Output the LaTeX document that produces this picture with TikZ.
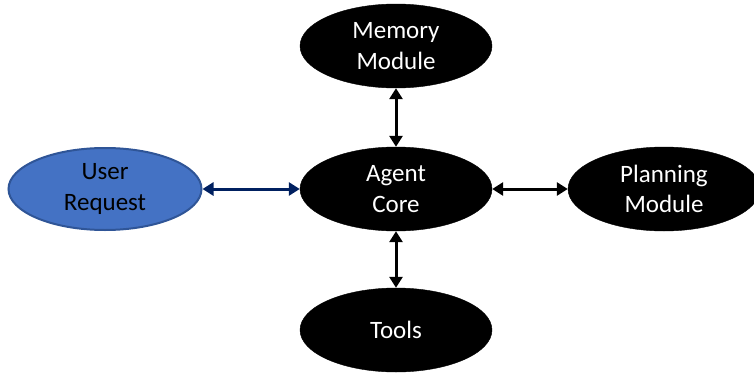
\documentclass[tikz,border=0pt]{standalone}
\usepackage{fontspec}
\setmainfont{Carlito}
\usetikzlibrary{shapes.geometric,arrows.meta}
\definecolor{userfill}{HTML}{4472C4}
\definecolor{userline}{HTML}{2F5597}
\definecolor{navy}{HTML}{002060}
\begin{document}
\begin{tikzpicture}[x=1pt,y=-1pt,
  blob/.style={ellipse, fill=black, draw=black, minimum width=192pt, minimum height=84pt,
    inner sep=0pt, text=white, align=center, font=\fontsize{25}{30.5}\selectfont},
  userblob/.style={blob, fill=userfill, draw=userline, line width=2pt, text=black},
  biarrow/.style={line width=3pt, {Triangle[width=13pt,length=11pt]}-{Triangle[width=13pt,length=11pt]}},
]
\useasboundingbox (0,0) rectangle (754,372);
\node[blob] (mem) at (396,46) {Memory\\Module};
\node[blob] (core) at (396,189) {Agent\\Core};
\node[blob] (tools) at (396,330) {Tools};
\node[blob] (plan) at (664,189) {Planning\\Module};
\node[userblob, minimum width=193pt, minimum height=82pt] (user) at (105,189) {User\\Request};
\draw[biarrow] (mem) -- (core);
\draw[biarrow] (core) -- (tools);
\draw[biarrow] (core) -- (plan);
\draw[biarrow, navy] (user) -- (core);
\end{tikzpicture}
\end{document}
